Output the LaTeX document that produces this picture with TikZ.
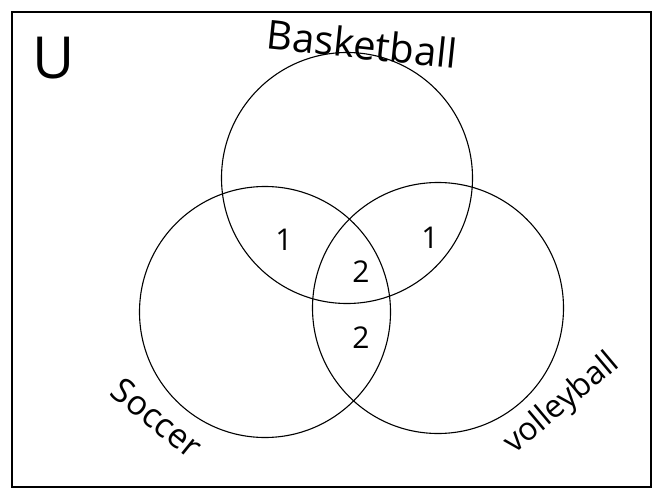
\documentclass[tikz,border=0pt]{standalone}
\usepackage{fontspec}
\setmainfont{Open Sans}
\usetikzlibrary{positioning}
\tikzset{
  setcirc/.style={draw,circle,line width=1.1pt,minimum size=251pt,inner sep=0pt},
  hand/.style={inner sep=0pt,font=\fontsize{#1}{#1}\selectfont},
  hand/.default=36pt
}
\begin{document}
\begin{tikzpicture}[x=1pt,y=-1pt]
\useasboundingbox (0,0) rectangle (655,489);
\draw[line width=1.8pt] (12,12) rectangle (651,487);
% the three sets
\node[setcirc] (basket) at (347,178) {};
\node[setcirc] (soccer) at (265,312) {};
\node[setcirc] (volley) at (438,308) {};
% set labels
\node[hand=58pt] (univ) at (54,58) {U};
\node[hand=40pt,rotate=-6] (basketlbl) at (362,44) {Basketball};
\node[hand=34pt,rotate=-39] (soccerlbl) at (157,418) {Soccer};
\node[hand=32pt,rotate=40] (volleylbl) at (562,404) {volleyball};
% counts
\node[hand=30pt] (nbs) at (284,240) {1};
\node[hand=30pt] (nbv) at (430,238) {1};
\node[hand=30pt] (nall) at (361,272) {2};
\node[hand=30pt] (nsv) at (361,338) {2};
\end{tikzpicture}
\end{document}
